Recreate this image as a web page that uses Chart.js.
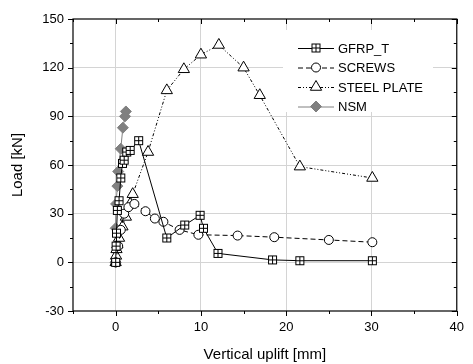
<!DOCTYPE html>
<html>
<head>
<meta charset="utf-8">
<script src="https://cdn.jsdelivr.net/npm/chart.js@4.4.0/dist/chart.umd.min.js"></script>
<style>
  html, body { margin: 0; padding: 0; background: #fff; }
</style>
</head>
<body>
<canvas id="chart" width="473" height="364"></canvas>
<script>
// data (uplift in mm, load in kN)
const gfrpX = [0, 0.05, 0.1, 0.2, 0.4, 0.6, 0.8, 1.0, 1.3, 1.7, 2.7, 6.0, 8.1, 9.9, 10.3, 12.0, 18.4, 21.6, 30.1];
const gfrpY = [0, 10, 18, 32, 38, 52, 61, 63, 68, 69, 75, 15, 23, 29, 21, 5.5, 1.5, 1, 1];
const screwsX = [0, 0.3, 0.6, 1.0, 1.5, 2.2, 3.5, 4.6, 5.6, 7.5, 9.7, 14.3, 18.6, 25.0, 30.1];
const screwsY = [0, 10, 20, 30, 34, 36, 31.5, 27, 25, 20, 17, 16.5, 15.5, 13.8, 12.4];
const steelX = [0, 0.05, 0.1, 0.2, 0.4, 0.8, 1.2, 1.7, 2.0, 3.8, 6.0, 8.0, 10.0, 12.1, 15.0, 16.9, 21.6, 30.1];
const steelY = [0, 4, 8, 11, 15, 22, 28, 36, 42, 68, 106, 119, 128, 134, 120, 103, 59, 52];
const nsmX = [0, 0, 0.05, 0.2, 0.3, 0.6, 0.85, 1.1, 1.2];
const nsmY = [0, 21, 36, 47, 56, 70, 83, 90, 93];

const xTicks = [0, 10, 20, 30, 40];
const xMinor = [-5, 5, 15, 25, 35];
const yTicks = [-30, 0, 30, 60, 90, 120, 150];
const yMinor = [-15, 15, 45, 75, 105, 135];

const seriesNames = ['GFRP_T', 'SCREWS', 'STEEL PLATE', 'NSM'];

Chart.defaults.font.family = '"Liberation Sans", Arial, sans-serif';
Chart.defaults.color = '#000';

function pts(xs, ys) {
  return xs.map((x, i) => ({x: x, y: ys[i]}));
}

// square with a cross inside, used for GFRP_T
const sq = document.createElement('canvas');
sq.width = 11; sq.height = 11;
(function () {
  const c = sq.getContext('2d');
  c.fillStyle = '#fff';
  c.fillRect(1, 1, 9, 9);
  c.strokeStyle = '#000';
  c.lineWidth = 1;
  c.strokeRect(1.5, 1.5, 8, 8);
  c.beginPath();
  c.moveTo(5.5, 1.5); c.lineTo(5.5, 9.5);
  c.moveTo(1.5, 5.5); c.lineTo(9.5, 5.5);
  c.stroke();
})();

const styles = [
  {color: '#000', dash: [], point: sq, radius: 5, fill: '#fff'},
  {color: '#000', dash: [5, 3], point: 'circle', radius: 4.5, fill: '#fff'},
  {color: '#000', dash: [3, 2, 1, 2, 1, 2], point: 'triangle', radius: 6.5, fill: '#fff'},
  {color: '#808080', dash: [], point: 'rectRot', radius: 5.5, fill: '#808080'}
];

const datasets = [
  pts(gfrpX, gfrpY), pts(screwsX, screwsY), pts(steelX, steelY), pts(nsmX, nsmY)
].map((d, i) => ({
  label: seriesNames[i],
  data: d,
  showLine: true,
  borderColor: styles[i].color,
  borderWidth: 1,
  borderDash: styles[i].dash,
  pointStyle: styles[i].point,
  pointRadius: styles[i].radius,
  pointBackgroundColor: styles[i].fill,
  pointBorderColor: styles[i].color,
  pointBorderWidth: 1
}));

function drawMark(ctx, i, x, y) {
  const s = styles[i];
  if (s.point === sq) {
    ctx.drawImage(sq, x - 5.5, y - 5.5);
    return;
  }
  Chart.helpers.drawPoint(ctx, {pointStyle: s.point, radius: s.radius, borderWidth: 1}, x, y);
}

const frame = {
  id: 'frame',
  afterDraw(chart) {
    const ctx = chart.ctx;
    const a = chart.chartArea;
    const xs = chart.scales.x, ys = chart.scales.y;
    ctx.save();
    ctx.strokeStyle = '#000';
    ctx.lineWidth = 1.2;
    ctx.setLineDash([]);
    ctx.strokeRect(a.left, a.top, a.right - a.left, a.bottom - a.top);
    ctx.lineWidth = 1;
    ctx.beginPath();
    xTicks.concat(xMinor).forEach(v => {
      const p = Math.round(xs.getPixelForValue(v)) + 0.5;
      const len = xTicks.includes(v) ? 5 : 3;
      ctx.moveTo(p, a.bottom); ctx.lineTo(p, a.bottom + len);
      ctx.moveTo(p, a.top); ctx.lineTo(p, a.top + len);
    });
    yTicks.concat(yMinor).forEach(v => {
      const p = Math.round(ys.getPixelForValue(v)) + 0.5;
      const len = yTicks.includes(v) ? 5 : 3;
      ctx.moveTo(a.left, p); ctx.lineTo(a.left - len, p);
      ctx.moveTo(a.right, p); ctx.lineTo(a.right - len, p);
    });
    ctx.stroke();

    // legend inside the plot, top right
    ctx.fillStyle = '#fff';
    ctx.fillRect(283, 30, 150, 82);
    ctx.font = '13px "Liberation Sans", Arial, sans-serif';
    ctx.textBaseline = 'middle';
    seriesNames.forEach((name, i) => {
      const y = 48 + i * 19.5;
      const s = styles[i];
      ctx.strokeStyle = s.color;
      ctx.fillStyle = s.fill;
      ctx.lineWidth = 1;
      ctx.setLineDash(s.dash);
      ctx.beginPath();
      ctx.moveTo(298, y + 0.5); ctx.lineTo(334, y + 0.5);
      ctx.stroke();
      ctx.setLineDash([]);
      drawMark(ctx, i, 316, y);
      ctx.fillStyle = '#000';
      ctx.fillText(name, 338, y + 1);
    });
    ctx.restore();
  }
};

function gridColor(edges) {
  return c => edges.includes(c.tick.value) ? 'rgba(0,0,0,0)' : '#d4d4d4';
}

new Chart(document.getElementById('chart'), {
  type: 'scatter',
  data: {datasets: datasets},
  options: {
    responsive: false,
    animation: false,
    layout: {padding: {left: 0, top: 19, right: 9, bottom: 0}},
    plugins: {legend: {display: false}, tooltip: {enabled: false}},
    scales: {
      x: {
        min: -5, max: 40,
        afterBuildTicks: s => { s.ticks = xTicks.map(v => ({value: v})); },
        afterFit: s => { s.height = 53; },
        border: {display: false},
        grid: {color: gridColor([40]), borderDash: [5, 3], drawTicks: false, lineWidth: 1},
        ticks: {padding: 9, font: {size: 13}, color: '#000'},
        title: {display: true, text: 'Vertical uplift [mm]', font: {size: 15}, color: '#000', padding: {top: 0, bottom: 0}}
      },
      y: {
        min: -30, max: 150,
        afterBuildTicks: s => { s.ticks = yTicks.map(v => ({value: v})); },
        afterFit: s => { s.width = 73; },
        border: {display: false},
        grid: {color: gridColor([-30, 150]), borderDash: [5, 3], drawTicks: false, lineWidth: 1},
        ticks: {padding: 9, font: {size: 13}, color: '#000'},
        title: {display: true, text: 'Load [kN]', font: {size: 15}, color: '#000', padding: {top: 9, bottom: 0}}
      }
    }
  },
  plugins: [frame]
});
</script>
</body>
</html>
